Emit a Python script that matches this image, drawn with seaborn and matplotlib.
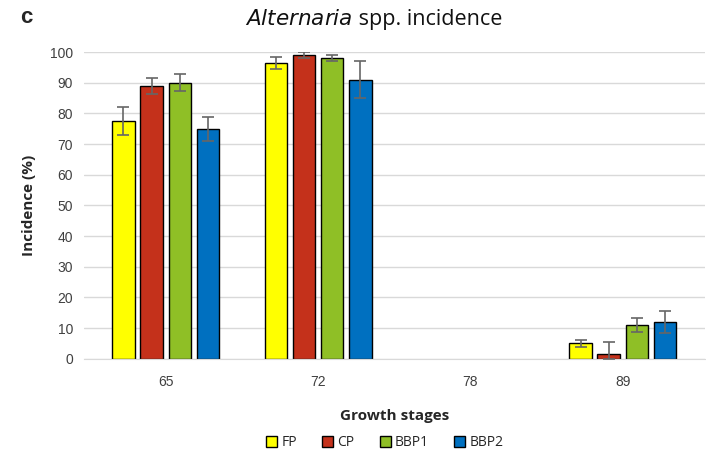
import numpy as np
import pandas as pd
import matplotlib
matplotlib.use("Agg")
import matplotlib.pyplot as plt
import seaborn as sns

# Data
stages = ["65", "72", "78", "89"]
treatments = ["FP", "CP", "BBP1", "BBP2"]
fp_vals = [77.5, 96.5, 0, 5.0]
cp_vals = [89.0, 99.0, 0, 1.5]
bbp1_vals = [90.0, 98.0, 0, 11.0]
bbp2_vals = [75.0, 91.0, 0, 12.0]
fp_err = [4.5, 2.0, 0, 1.2]
cp_err = [2.5, 1.0, 0, 3.8]
bbp1_err = [2.8, 1.0, 0, 2.2]
bbp2_err = [4.0, 6.0, 0, 3.7]

colors = ["#FFFF00", "#C4311B", "#8FBF26", "#0070C0"]

values = [fp_vals, cp_vals, bbp1_vals, bbp2_vals]
errors = [fp_err, cp_err, bbp1_err, bbp2_err]

rows = []
for t, vals, errs in zip(treatments, values, errors):
    for s, v, e in zip(stages, vals, errs):
        rows.append({"stage": s, "treatment": t, "value": v, "err": e})
df = pd.DataFrame(rows)

sns.set_style("white")
plt.rcParams["font.family"] = ["Open Sans", "DejaVu Sans"]

fig, ax = plt.subplots(figsize=(7.06, 4.54), dpi=100)
fig.subplots_adjust(left=0.119, right=0.998, top=0.885, bottom=0.21)

sns.barplot(data=df, x="stage", y="value", hue="treatment", order=stages,
            hue_order=treatments, palette=colors, saturation=1, width=0.74,
            gap=0.2, edgecolor="black", linewidth=1.0, errorbar=None, ax=ax,
            legend=False)

# error bars on each bar (patches are ordered hue by hue)
bars = list(ax.patches)
for i, t in enumerate(treatments):
    for j, s in enumerate(stages):
        p = bars[i * len(stages) + j]
        v = values[i][j]
        e = errors[i][j]
        if v == 0:
            p.set_visible(False)
            continue
        lo = min(e, v)
        ax.errorbar(p.get_x() + p.get_width() / 2, v, yerr=[[lo], [e]],
                    fmt="none", ecolor="#666666", elinewidth=1.2,
                    capsize=4, capthick=1.2, zorder=5)

ax.set_ylim(0, 100)
ax.set_yticks(np.arange(0, 101, 10))
ax.yaxis.grid(True, color="#D9D9D9", linewidth=1)
ax.set_axisbelow(True)
for side in ["top", "right", "left"]:
    ax.spines[side].set_visible(False)
ax.spines["bottom"].set_color("#D9D9D9")
ax.tick_params(axis="y", length=0, labelsize=10, colors="#404040", pad=8)
ax.tick_params(axis="x", length=0, labelsize=10, colors="#404040", pad=12)
for lab in ax.get_xticklabels() + ax.get_yticklabels():
    lab.set_fontfamily("Liberation Sans")

ax.set_xlabel("Growth stages", fontsize=11, fontweight="bold", labelpad=14)
ax.set_ylabel("Incidence (%)", fontsize=11, fontweight="bold", labelpad=10)

fig.text(0.5, 0.958, r"$\it{Alternaria}$", ha="right", va="center",
         fontsize=15.5, color="#111111")
fig.text(0.5, 0.958, " spp. incidence", ha="left", va="center",
         fontsize=15.5, color="#111111")
fig.text(0.028, 0.962, "c", ha="left", va="center", fontsize=16,
         fontweight="bold", family="Liberation Sans")

handles = [plt.Rectangle((0, 0), 1, 1, facecolor=c, edgecolor="black", linewidth=1)
           for c in colors]
fig.legend(handles, treatments, loc="center", bbox_to_anchor=(0.545, 0.025),
           ncol=4, frameon=False, fontsize=10, handlelength=0.8,
           handleheight=0.8, handletextpad=0.3, columnspacing=1.8)

fig.savefig("out.png", dpi=100)
